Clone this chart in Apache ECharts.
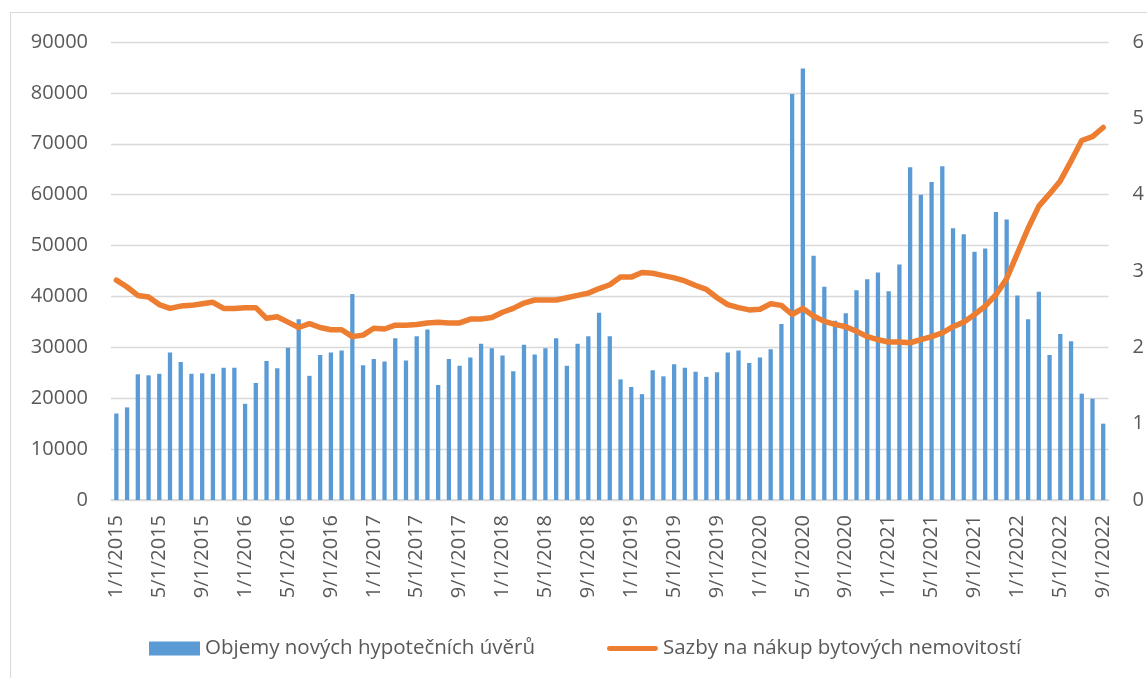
<!DOCTYPE html>
<html>
<head>
<meta charset="utf-8">
<script src="https://cdn.jsdelivr.net/npm/echarts@6/dist/echarts.min.js"></script>
<style>
  html, body { margin: 0; padding: 0; background: #fff; }
  #frame { position: absolute; left: 10px; top: 12px; width: 1200px; height: 700px; border: 1px solid #d9d9d9; }
  #chart { position: absolute; left: 0; top: 0; width: 1147px; height: 678px; }
</style>
</head>
<body>
<div id="frame"></div>
<div id="chart"></div>
<script>
// monthly categories 1/1/2015 .. 9/1/2022
var months = []
for (var y = 2015; y <= 2022; y++) {
  for (var m = 1; m <= 12; m++) {
    if (y === 2022 && m > 9) break
    months.push(m + '/1/' + y)
  }
}

// Objemy nových hypotečních úvěrů
var volumes = [
  17000, 18200, 24700, 24500, 24800, 29000, 27100, 24800, 24900, 24800, 26000, 26000,
  18900, 23000, 27300, 25900, 29900, 35500, 24400, 28500, 29000, 29400, 40500, 26500,
  27700, 27200, 31800, 27400, 32200, 33500, 22600, 27700, 26400, 28000, 30700, 29800,
  28400, 25300, 30500, 28600, 29800, 31800, 26400, 30700, 32200, 36800, 32200, 23700,
  22200, 20800, 25500, 24300, 26700, 26000, 25200, 24200, 25100, 29000, 29400, 26900,
  28000, 29600, 34600, 79800, 84800, 48000, 41900, 35200, 36700, 41200, 43400, 44700,
  41000, 46300, 65400, 60000, 62500, 65600, 53400, 52200, 48800, 49400, 56600, 55100,
  40200, 35500, 40900, 28500, 32600, 31200, 20900, 19900, 15000
]

// Sazby na nákup bytových nemovitostí
var rates = [
  2.88, 2.79, 2.68, 2.66, 2.56, 2.51, 2.54, 2.55, 2.57, 2.59, 2.51, 2.51,
  2.52, 2.52, 2.38, 2.40, 2.33, 2.26, 2.31, 2.26, 2.23, 2.23, 2.14, 2.16,
  2.25, 2.24, 2.29, 2.29, 2.30, 2.32, 2.33, 2.32, 2.32, 2.37, 2.37, 2.39,
  2.46, 2.51, 2.58, 2.62, 2.62, 2.62, 2.65, 2.68, 2.71, 2.77, 2.82, 2.92,
  2.92, 2.98, 2.97, 2.94, 2.91, 2.87, 2.81, 2.76, 2.65, 2.56, 2.52, 2.49,
  2.50, 2.57, 2.55, 2.43, 2.51, 2.41, 2.34, 2.30, 2.27, 2.21, 2.14, 2.10,
  2.07, 2.07, 2.06, 2.10, 2.14, 2.19, 2.27, 2.33, 2.43, 2.54, 2.69, 2.90,
  3.23, 3.56, 3.85, 4.01, 4.18, 4.44, 4.71, 4.76, 4.88
]

var labelColor = '#595959'
var fontFamily = '"Open Sans", sans-serif'

var chart = echarts.init(document.getElementById('chart'))
chart.setOption({
  animation: false,
  textStyle: { fontFamily: fontFamily },
  grid: {
    left: 111,
    right: 36,
    top: 42,
    bottom: 178
  },
  legend: {
    left: 144,
    top: 633,
    itemWidth: 51,
    itemHeight: 14,
    itemGap: 72,
    textStyle: { color: labelColor, fontSize: 20.5, fontFamily: fontFamily },
    data: [
      { name: 'Objemy nových hypotečních úvěrů', icon: 'rect' },
      { name: 'Sazby na nákup bytových nemovitostí', icon: 'path://M2.5,0 L49.5,0 A2.5,2.5 0 0 1 49.5,5 L2.5,5 A2.5,2.5 0 0 1 2.5,0 Z' }
    ]
  },
  xAxis: {
    type: 'category',
    data: months,
    axisTick: { show: false },
    axisLine: { lineStyle: { color: '#d9d9d9', width: 1.5 } },
    axisLabel: {
      rotate: 90,
      interval: 3,
      margin: 15,
      color: labelColor,
      fontSize: 20,
      fontFamily: fontFamily
    }
  },
  yAxis: [{
    type: 'value',
    min: 0,
    max: 90000,
    interval: 10000,
    axisLine: { show: false },
    axisTick: { show: false },
    splitLine: { lineStyle: { color: '#d9d9d9', width: 1.3 } },
    axisLabel: {
      color: labelColor,
      fontSize: 20,
      margin: 23,
      fontFamily: fontFamily,
      formatter: function (v) { return String(v) }
    }
  }, {
    type: 'value',
    min: 0,
    max: 6,
    interval: 1,
    axisLine: { show: false },
    axisTick: { show: false },
    splitLine: { show: false },
    axisLabel: { color: labelColor, fontSize: 20, margin: 24, fontFamily: fontFamily }
  }],
  series: [{
    name: 'Objemy nových hypotečních úvěrů',
    type: 'bar',
    data: volumes,
    barWidth: '40%',
    itemStyle: { color: '#5b9bd5' }
  }, {
    name: 'Sazby na nákup bytových nemovitostí',
    type: 'line',
    yAxisIndex: 1,
    data: rates,
    symbol: 'none',
    lineStyle: { color: '#ed7d31', width: 5.5, cap: 'round', join: 'round' },
    itemStyle: { color: '#ed7d31' }
  }]
})
</script>
</body>
</html>
